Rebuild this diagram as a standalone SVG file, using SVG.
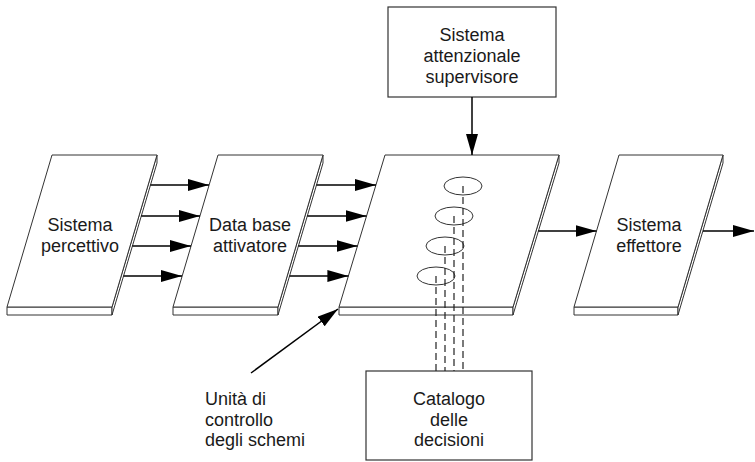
<svg xmlns="http://www.w3.org/2000/svg" width="755" height="462" viewBox="0 0 755 462">
<style>
.face{fill:#fff;stroke:#333;stroke-width:1;stroke-linejoin:round}
.box{fill:#fff;stroke:#333;stroke-width:1.2}
.t{font-family:"Liberation Sans",Arial,sans-serif;font-size:18px;fill:#1a1a1a;text-anchor:middle}
.tl{font-family:"Liberation Sans",Arial,sans-serif;font-size:18px;fill:#1a1a1a}
.arr{stroke:#000;stroke-width:1.5;fill:none;marker-end:url(#ah)}
.dash{stroke:#222;stroke-width:1.2;stroke-dasharray:7 4;fill:none}
.ell{fill:none;stroke:#333;stroke-width:1}
</style>
<defs>
<marker id="ah" markerUnits="userSpaceOnUse" markerWidth="22" markerHeight="14" refX="21" refY="6" orient="auto">
<path d="M0,0 L21,6 L0,12 z" fill="#000"/>
</marker>
</defs>

<g id="sistema-percettivo">
<polygon class="face" points="7,307 112,307 112,315 7,315"/>
<polygon class="face" points="157,155 157,163 112,315 112,307"/>
<polygon class="face" points="52,155 157,155 112,307 7,307"/>
<text class="t" x="80" y="231">Sistema</text>
<text class="t" x="80" y="252">percettivo</text>
</g>

<g id="data-base-attivatore">
<polygon class="face" points="173,307 278,307 278,315 173,315"/>
<polygon class="face" points="323,155 323,163 278,315 278,307"/>
<polygon class="face" points="218,155 323,155 278,307 173,307"/>
<text class="t" x="250" y="231">Data base</text>
<text class="t" x="250" y="252">attivatore</text>
</g>

<g id="pannello-centrale">
<polygon class="face" points="339,307 513,307 513,315 339,315"/>
<polygon class="face" points="559,155 559,163 513,315 513,307"/>
<polygon class="face" points="385,155 559,155 513,307 339,307"/>
<ellipse class="ell" cx="463" cy="186" rx="19" ry="9"/>
<ellipse class="ell" cx="454" cy="216" rx="19" ry="9"/>
<ellipse class="ell" cx="445" cy="246" rx="19" ry="9"/>
<ellipse class="ell" cx="436" cy="276" rx="19" ry="9"/>
</g>

<g id="sistema-effettore">
<polygon class="face" points="574,307 678,307 678,315 574,315"/>
<polygon class="face" points="723,155 723,163 678,315 678,307"/>
<polygon class="face" points="619,155 723,155 678,307 574,307"/>
<text class="t" x="649" y="231">Sistema</text>
<text class="t" x="649" y="252">effettore</text>
</g>

<g id="sistema-attenzionale-supervisore">
<rect class="box" x="388" y="7" width="168" height="90"/>
<text class="t" x="472" y="41">Sistema</text>
<text class="t" x="472" y="62">attenzionale</text>
<text class="t" x="472" y="83">supervisore</text>
</g>

<g id="catalogo-decisioni">
<rect class="box" x="366" y="371" width="166" height="89"/>
<text class="t" x="449" y="405">Catalogo</text>
<text class="t" x="449" y="426">delle</text>
<text class="t" x="449" y="446">decisioni</text>
</g>

<g id="unita-controllo-label">
<text class="tl" x="205" y="405">Unità di</text>
<text class="tl" x="205" y="426">controllo</text>
<text class="tl" x="205" y="446">degli schemi</text>
</g>

<g id="connectors">
<line class="arr" x1="150.5" y1="185" x2="209" y2="185"/>
<line class="arr" x1="141.3" y1="216" x2="200" y2="216"/>
<line class="arr" x1="132.4" y1="246" x2="191" y2="246"/>
<line class="arr" x1="123.5" y1="276" x2="182" y2="276"/>
<line class="arr" x1="316.5" y1="185" x2="376" y2="185"/>
<line class="arr" x1="307.3" y1="216" x2="366.5" y2="216"/>
<line class="arr" x1="298.4" y1="246" x2="357.5" y2="246"/>
<line class="arr" x1="289.5" y1="276" x2="348.4" y2="276"/>
<line class="arr" x1="538.4" y1="231" x2="596.5" y2="231"/>
<line class="arr" x1="703" y1="231" x2="754" y2="231"/>
<line class="arr" x1="472" y1="97" x2="472" y2="155"/>
<line class="arr" x1="251" y1="373" x2="338" y2="309"/>
<line class="dash" x1="463" y1="186" x2="463" y2="371"/>
<line class="dash" x1="454" y1="216" x2="454" y2="371"/>
<line class="dash" x1="445" y1="246" x2="445" y2="371"/>
<line class="dash" x1="436" y1="276" x2="436" y2="371"/>
</g>
</svg>
